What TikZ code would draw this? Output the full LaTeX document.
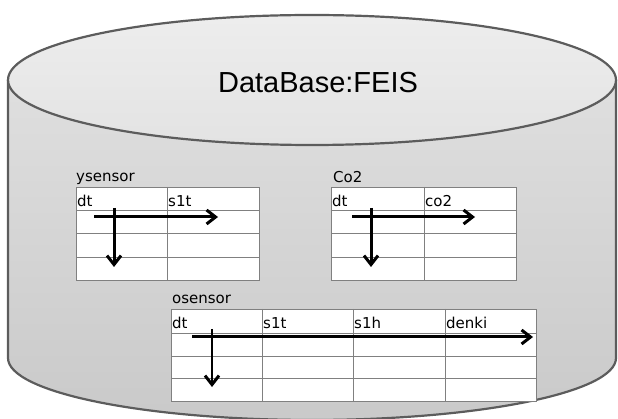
\documentclass[tikz,border=0pt]{standalone}
\usepackage{fontspec}
\setmainfont{Liberation Sans}
\newfontfamily\cellfont{DejaVu Sans}
\usetikzlibrary{arrows.meta}
\definecolor{rimgray}{HTML}{5C5C5C}
\definecolor{gridgray}{HTML}{808080}
\tikzset{
  rim/.style={draw=rimgray, line width=2.2pt, line join=round},
  tablebox/.style={fill=white, draw=gridgray, line width=0.9pt},
  gridline/.style={draw=gridgray, line width=0.9pt},
  tname/.style={anchor=base west, inner sep=0pt, font=\cellfont\fontsize{15}{18}\selectfont},
  colhead/.style={anchor=base west, inner sep=0pt, font=\cellfont\fontsize{15}{18}\selectfont},
  flow/.style={draw=black, line width=3pt, -{Straight Barb[length=9pt,width=14pt,line width=3pt]}},
  dbtitle/.style={inner sep=0pt, font=\fontsize{29}{34}\selectfont},
}
\begin{document}
\begin{tikzpicture}[x=1pt, y=-1pt]
\useasboundingbox (0,0) rectangle (618,419);

% cylinder body
\shade[top color=black!11, bottom color=black!21]
  (8,80) -- (8,358) arc[start angle=180, end angle=360, x radius=304pt, y radius=62pt]
  -- (616,80) arc[start angle=0, end angle=180, x radius=304pt, y radius=65pt] -- cycle;
\draw[rim] (8,80) -- (8,358) arc[start angle=180, end angle=360, x radius=304pt, y radius=62pt]
  -- (616,80);
% cylinder lid
\shade[rim, top color=black!7, bottom color=black!11] (312,80) ellipse[x radius=304pt, y radius=65pt];
\node[dbtitle] (title) at (318,83) {DataBase:FEIS};

% table ysensor
\filldraw[tablebox] (76,187) rectangle (259,280);
\foreach \y in {210,233,257} \draw[gridline] (76,\y) -- (259,\y);
\draw[gridline] (167,187) -- (167,280);
\node[tname] (ysname) at (76,182) {ysensor};
\node[colhead] (ysdt) at (77,207) {dt};
\node[colhead] (ys1t) at (168,207) {s1t};
\coordinate (ysh0) at (94,217);  \coordinate (ysh1) at (218,217);
\coordinate (ysv0) at (114,208); \coordinate (ysv1) at (114,267);
\draw[flow] (ysh0) -- (ysh1);
\draw[flow] (ysv0) -- (ysv1);

% table Co2
\filldraw[tablebox] (331,187) rectangle (516,280);
\foreach \y in {210,233,257} \draw[gridline] (331,\y) -- (516,\y);
\draw[gridline] (424,187) -- (424,280);
\node[tname] (coname) at (333,183) {Co2};
\node[colhead] (codt) at (332,207) {dt};
\node[colhead] (coco2) at (425,207) {co2};
\coordinate (coh0) at (352,217);  \coordinate (coh1) at (475,217);
\coordinate (cov0) at (371,208);  \coordinate (cov1) at (371,267);
\draw[flow] (coh0) -- (coh1);
\draw[flow] (cov0) -- (cov1);

% table osensor
\filldraw[tablebox] (171,309) rectangle (536,401);
\foreach \y in {333,356,378} \draw[gridline] (171,\y) -- (536,\y);
\foreach \x in {262,353,445} \draw[gridline] (\x,309) -- (\x,401);
\node[tname] (osname) at (172,304) {osensor};
\node[colhead] (osdt) at (172,328) {dt};
\node[colhead] (os1t) at (263,328) {s1t};
\node[colhead] (os1h) at (354,328) {s1h};
\node[colhead] (osdenki) at (446,328) {denki};
\coordinate (osh0) at (192,337);  \coordinate (osh1) at (533,337);
\coordinate (osv0) at (212,329);  \coordinate (osv1) at (212,387);
\draw[flow] (osh0) -- (osh1);
\draw[flow, line width=2.6pt] (osv0) -- (osv1);
\end{tikzpicture}
\end{document}
